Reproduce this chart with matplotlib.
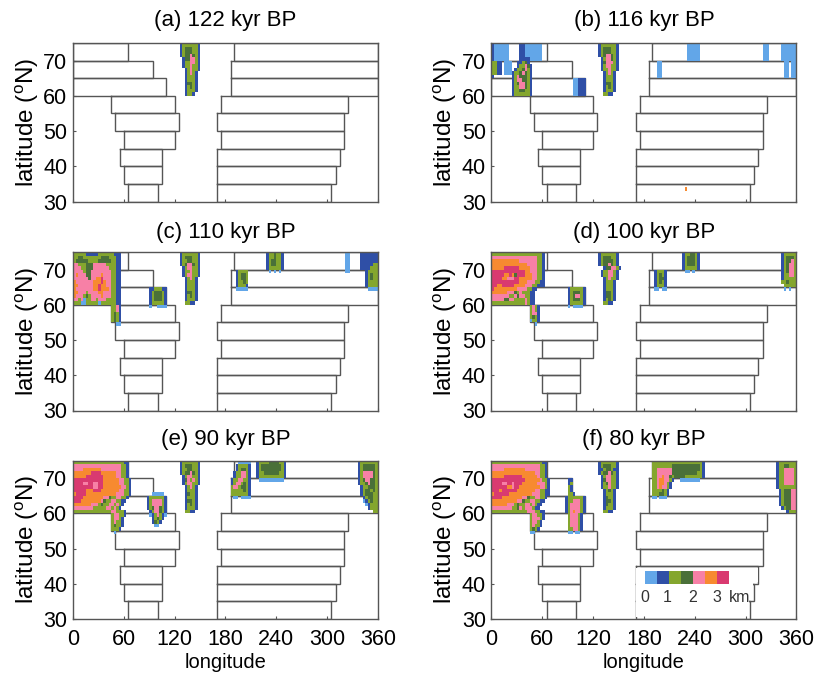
import numpy as np
import matplotlib
matplotlib.use('Agg')
import matplotlib.pyplot as plt
from matplotlib.colors import ListedColormap
from matplotlib.patches import Polygon

plt.rcParams['font.family'] = ['Liberation Sans', 'DejaVu Sans']
plt.rcParams['mathtext.fontset'] = 'custom'
plt.rcParams['mathtext.rm'] = 'Liberation Sans'

# ---- data ----
titles = ['(a) 122 kyr BP', '(b) 116 kyr BP', '(c) 110 kyr BP',
          '(d) 100 kyr BP', '(e) 90 kyr BP', '(f) 80 kyr BP']
lat_ticks = [30, 40, 50, 60, 70]
lon_ticks = [0, 60, 120, 180, 240, 300, 360]
lon_tick_labels = ['0', '60', '120', '180', '240', '300', '360']

# land outline by 5-degree band, north to south
band_north = [75, 70, 65, 60, 55, 50, 45, 40, 35]
west_start = [0, 0, 0, 45, 50, 60, 55, 60, 65]
west_end = [65, 95, 110, 120, 125, 120, 105, 105, 100]
east_start = [190, 186, 186, 175, 170, 175, 170, 170, 170]
east_end = [360, 360, 360, 325, 320, 320, 315, 310, 305]

# ice thickness classes, grid 3 deg lon x 1 deg lat; (col, row, strings)
colors = ['#62a6e8', '#2f4fa6', '#84a62e', '#4a7039', '#f780a6', '#f78a30', '#d93a70']
legend_classes = [0, 1, 2, 3, 4, 5, 6]
legend_labels = ['0', '1', '2', '3', 'km']

ice_a = [(42, 0, ["12222221", "12333221", "12333221", "12334321", ".1334421",
                  ".1224421", ".1224221", "..124221", "..12421.", "..12221.",
                  "..12221.", "..13321.", "..12321.", "..12221.", "..1221.."])]

ice_b = [(0, 0, ["1000000....110000000", "1000000....110000000", "1000000....110000000",
                 "1000000....110000000", "1000000....110000000",
                 "2211.000", "2211.000", "2211.000", "2211.000", "1.......",]),
         (8, 4, ["...1111.", "..11231.", "..122431", ".1223421", "12234321",
                 "12433321", "12443321", "12344321", "12244321", "12233221", "12222221"]),
         (42, 0, ["12222221", "12333221", "12333221", "12344321", ".1244321",
                  ".1344421", ".1244221", ".1224221", "..12421.", "..12221.",
                  "..12221.", "..13321.", "..12321.", "..12221.", "..2211.."]),
         (32, 10, ["00111"] * 5),
         (77, 0, ["00000"] * 5), (107, 0, ["00"] * 5), (114, 0, ["000000"] * 5),
         (65, 5, ["00"] * 5), (115, 5, ["00.00"] * 5),
         (76, 41, ["5"])]

ice_c = [(0, 0, ["2222211111222222111", "2233222222233322211", "2333332222333332211",
                 "4422233344444222211", "4442233344444422211", "4444233444444442211",
                 "4544433444454442211", "4444443445564442211", "5444444455565442211",
                 "5544444455655442211", "5444444455655542211", "5544424444554442211",
                 "5444232444454442211", "4424022442444222211", "2220022222022222211",
                 "...............2241", "...............2241", "...............2321",
                 "...............2321", "...............2321", ".................00"]),
         (30, 10, ["1122211", "1233321", "1233321", "1233321", "1222221", "0..0000"]),
         (42, 0, ["12222221", "12333221", "12233221", "12344321", ".1244221",
                  ".1224221", ".1244221", "..12421.", "..12221.", "..12221.",
                  "..12221.", "..13321.", "..12321.", "..12221.", "..2211.."]),
         (76, 0, ["1223221", "1223221", "1233221", "1233221", "1222221", ".0.0.0."]),
         (64, 5, ["12222", "12332", "12332", "12232", "12221", "00000"]),
         (107, 0, ["00"] * 6),
         (113, 0, ["1111111", "1111111", "1111111", "1111122", "1111222"]),
         (115, 5, ["12222", "12322", "12322", "12222", "12222", ".0000"])]

ice_d = [(0, 0, ["222222222222222222221", "444444444444444444221", "555555555554444444221",
                 "555555555555554444221", "555556666665555444221", "666666666666655444221",
                 "666665565366655544221", "666655444665555544221", "666666666665554442211",
                 "665566666555544422111", "655555555544442211", "55555544432422211",
                 "44444442243442211", "44444334422224211", "22222222222224211",
                 "...............2421", "...............2421", "...............2441",
                 "...............2321", "...............0221", ".................0"]),
         (30, 10, ["1222221", "1233321", "1234421", "1233321", "1222221", "0.0000."]),
         (42, 0, ["12222221", "12333221", "12333321", "12334321", "..1334421",
                  ".1224421", ".1224421", "..124221", "..12221.", "..12221.",
                  "..12221.", "..13321.", "..13321.", "..12321.", "..2211.."]),
         (75, 0, ["1223321", "1233321", "1233321", "1233321", "1222221", ".00.0.."]),
         (64, 5, ["12221", "12321", "12331", "12321", "12221", "00.00"]),
         (114, 0, ["122222", "123332", "123342", "123442", "123442", "123442",
                   "122442", "122222", "223222", ".22222", ".0.0.."])]

ice_e = [(0, 0, ["2222222222222222222211", "4444444444444444444221", "4444555555544444444221",
                 "5555555666655555544221", "5555566666665555544221", "66666666666655555544221",
                 "66664466446655555544221", "66666666446655555554421", "66666555666555555544221",
                 "56666555555555555444221", "6666555555554432244221", "666555555554322442211",
                 "55555554442322442421", "4444444422222442421", "222222222222222442221",
                 "...............244221", "...............24421", "...............24221",
                 "...............23221", "...............2221", "................0"]),
         (29, 9, ["..00000.", "12222221", "12444421", "12444421", "12344321",
                  ".1244321", ".0124210", "..12321.", "..1321..", "...00..."]),
         (42, 0, ["12222221", "12333221", "12233221", "12334321", ".1244221",
                  ".1342421", ".1244221", "..12421.", "..12221.", "..13221.",
                  "..12221.", "..13321.", "..12321.", "..12221.", "..2211.."]),
         (72, 0, ["122223333221", "123333333321", "123333333321", "122333333221",
                  "122222222221", ".0000000000."]),
         (62, 0, ["...00000", "..122221", "..123321", ".1224421", ".1224421",
                  "12244221", "12442321", "24423321", "22222321", "22222221", ".00.0000"]),
         (112, 0, ["12222222", "12333332", "12333332", "12444432", "12444432",
                   "12344332", "12234332", ".1223332", ".1233232", ".1233322",
                   "..123322", "..012322", "...01222", "....1222", "......22"])]

ice_f = [(0, 0, ["2222222222222222222211", "4444444444444444444221", "4444455555555444444221",
                 "5555555555555555544221", "5555566666665555554221", "66666666666665555554221",
                 "66664466466655555544421", "66666655466555555554421", "66656666665555555442211",
                 "56666665555555554442211", "6666555555554432244221", "555555555544322442211",
                 "55555544423224424211", "4444444422342444211", "222222222222224442211",
                 "...............244221", "...............244421", "...............24421",
                 "...............24221", "...............2321", "...............00"]),
         (29, 5, [".11.....", ".12.....", ".21.....", ".21.....", ".221....",
                  "12222221", "12244421", "12444421", "12444421", "12454421",
                  ".244421", ".244421", ".244421", ".244421", ".224421", ".00.00"]),
         (42, 0, ["12222221", "12333221", "11233211", "12334321", ".1244221",
                  ".1344221", ".1234221", ".1224221", "..12321.", "..12221.",
                  "..13221.", "..13321.", "..13221.", "..12221.", "..2211.."]),
         (63, 0, ["222222222222222222221", "222222223333333333321", "224444443333333333321",
                  "224444443333333333221", "224454432333322222221", "224554421..00000000",
                  "22455421.", "22454421.", "2222321.", "2223321.", "00.000.."]),
         (112, 0, ["12222222", "12233222", "12244442", "12244442", "12244442",
                   "12244442", "12244442", "12222222", ".1233344", ".1233344",
                   ".1233344", ".1233344", ".1233344", "..123344", "....1222"])]

ice_panels = [ice_a, ice_b, ice_c, ice_d, ice_e, ice_f]


def grid_from(patches):
    g = np.full((45, 120), np.nan)
    for col, row, rows in patches:
        for i, s in enumerate(rows):
            for j, ch in enumerate(s):
                if ch != '.' and col + j < 120:
                    g[row + i, col + j] = int(ch)
    return g


W, H = 820, 674
fig = plt.figure(figsize=(W / 100, H / 100), dpi=100)
cmap = ListedColormap(colors)
LINE = '#555555'
# panel placement in pixels
lefts = [73, 491.5]
tops = [43, 252, 460.5]
title_pads = [12, 10, 11]
pw, ph = 305, 158.5
lon_edges = np.arange(0, 363, 3)
lat_edges = np.arange(75, 29, -1)

for k in range(6):
    r, c = k // 2, k % 2
    ax = fig.add_axes([lefts[c] / W, 1 - (tops[r] + ph) / H, pw / W, ph / H])
    for n, ws, we, es, ee in zip(band_north, west_start, west_end, east_start, east_end):
        for a, b in ((ws, we), (es, ee)):
            ax.plot([a, b, b, a, a], [n, n, n - 5, n - 5, n], color=LINE, lw=1.0, zorder=1,
                    solid_joinstyle='miter', clip_on=True)
    if k == 5:
        # white legend box
        ax.add_patch(Polygon([(171, 30.6), (304, 30.6), (304, 35.4), (309, 35.4), (309, 40.4),
                              (314, 40.4), (314, 44.5), (171, 44.5)],
                             fc='white', ec='none', zorder=1.5))
    ax.pcolormesh(lon_edges, lat_edges, grid_from(ice_panels[k]), cmap=cmap, vmin=-0.5, vmax=6.5,
                  zorder=2, shading='flat')
    ax.set_xlim(0, 360)
    ax.set_ylim(30, 75)
    ax.set_yticks(lat_ticks)
    ax.set_xticks(lon_ticks)
    ax.tick_params(axis='y', direction='in', length=2.5, width=0.8, color=LINE, labelsize=15.5, pad=4)
    ax.tick_params(axis='x', direction='in', length=2.5, width=0.8, color=LINE, labelsize=15.5, pad=7)
    if r == 2:
        ax.set_xticklabels(lon_tick_labels)
        ax.set_xlabel('longitude', fontsize=14.5, labelpad=2)
    else:
        ax.set_xticklabels([])
    ax.set_ylabel(r'latitude ($^{\mathrm{o}}$N)', fontsize=17.5, labelpad=2)
    ax.set_title(titles[k], fontsize=16, pad=title_pads[r])
    for s in ax.spines.values():
        s.set_color(LINE)
        s.set_linewidth(1.0)
        s.set_zorder(5)
    if k == 5:
        lax = fig.add_axes([645.3 / W, 1 - 584 / H, 83.5 / W, 13.3 / H])
        lax.pcolormesh(np.array([legend_classes]), cmap=cmap, vmin=-0.5, vmax=6.5)
        lax.axis('off')
        for lab, px in zip(legend_labels, [645, 667, 693, 717, 740]):
            fig.text(px / W, 1 - 597 / H, lab, fontsize=11.5, ha='center', va='center', color='#333333')

fig.savefig('out.png', dpi=100, facecolor='white')
